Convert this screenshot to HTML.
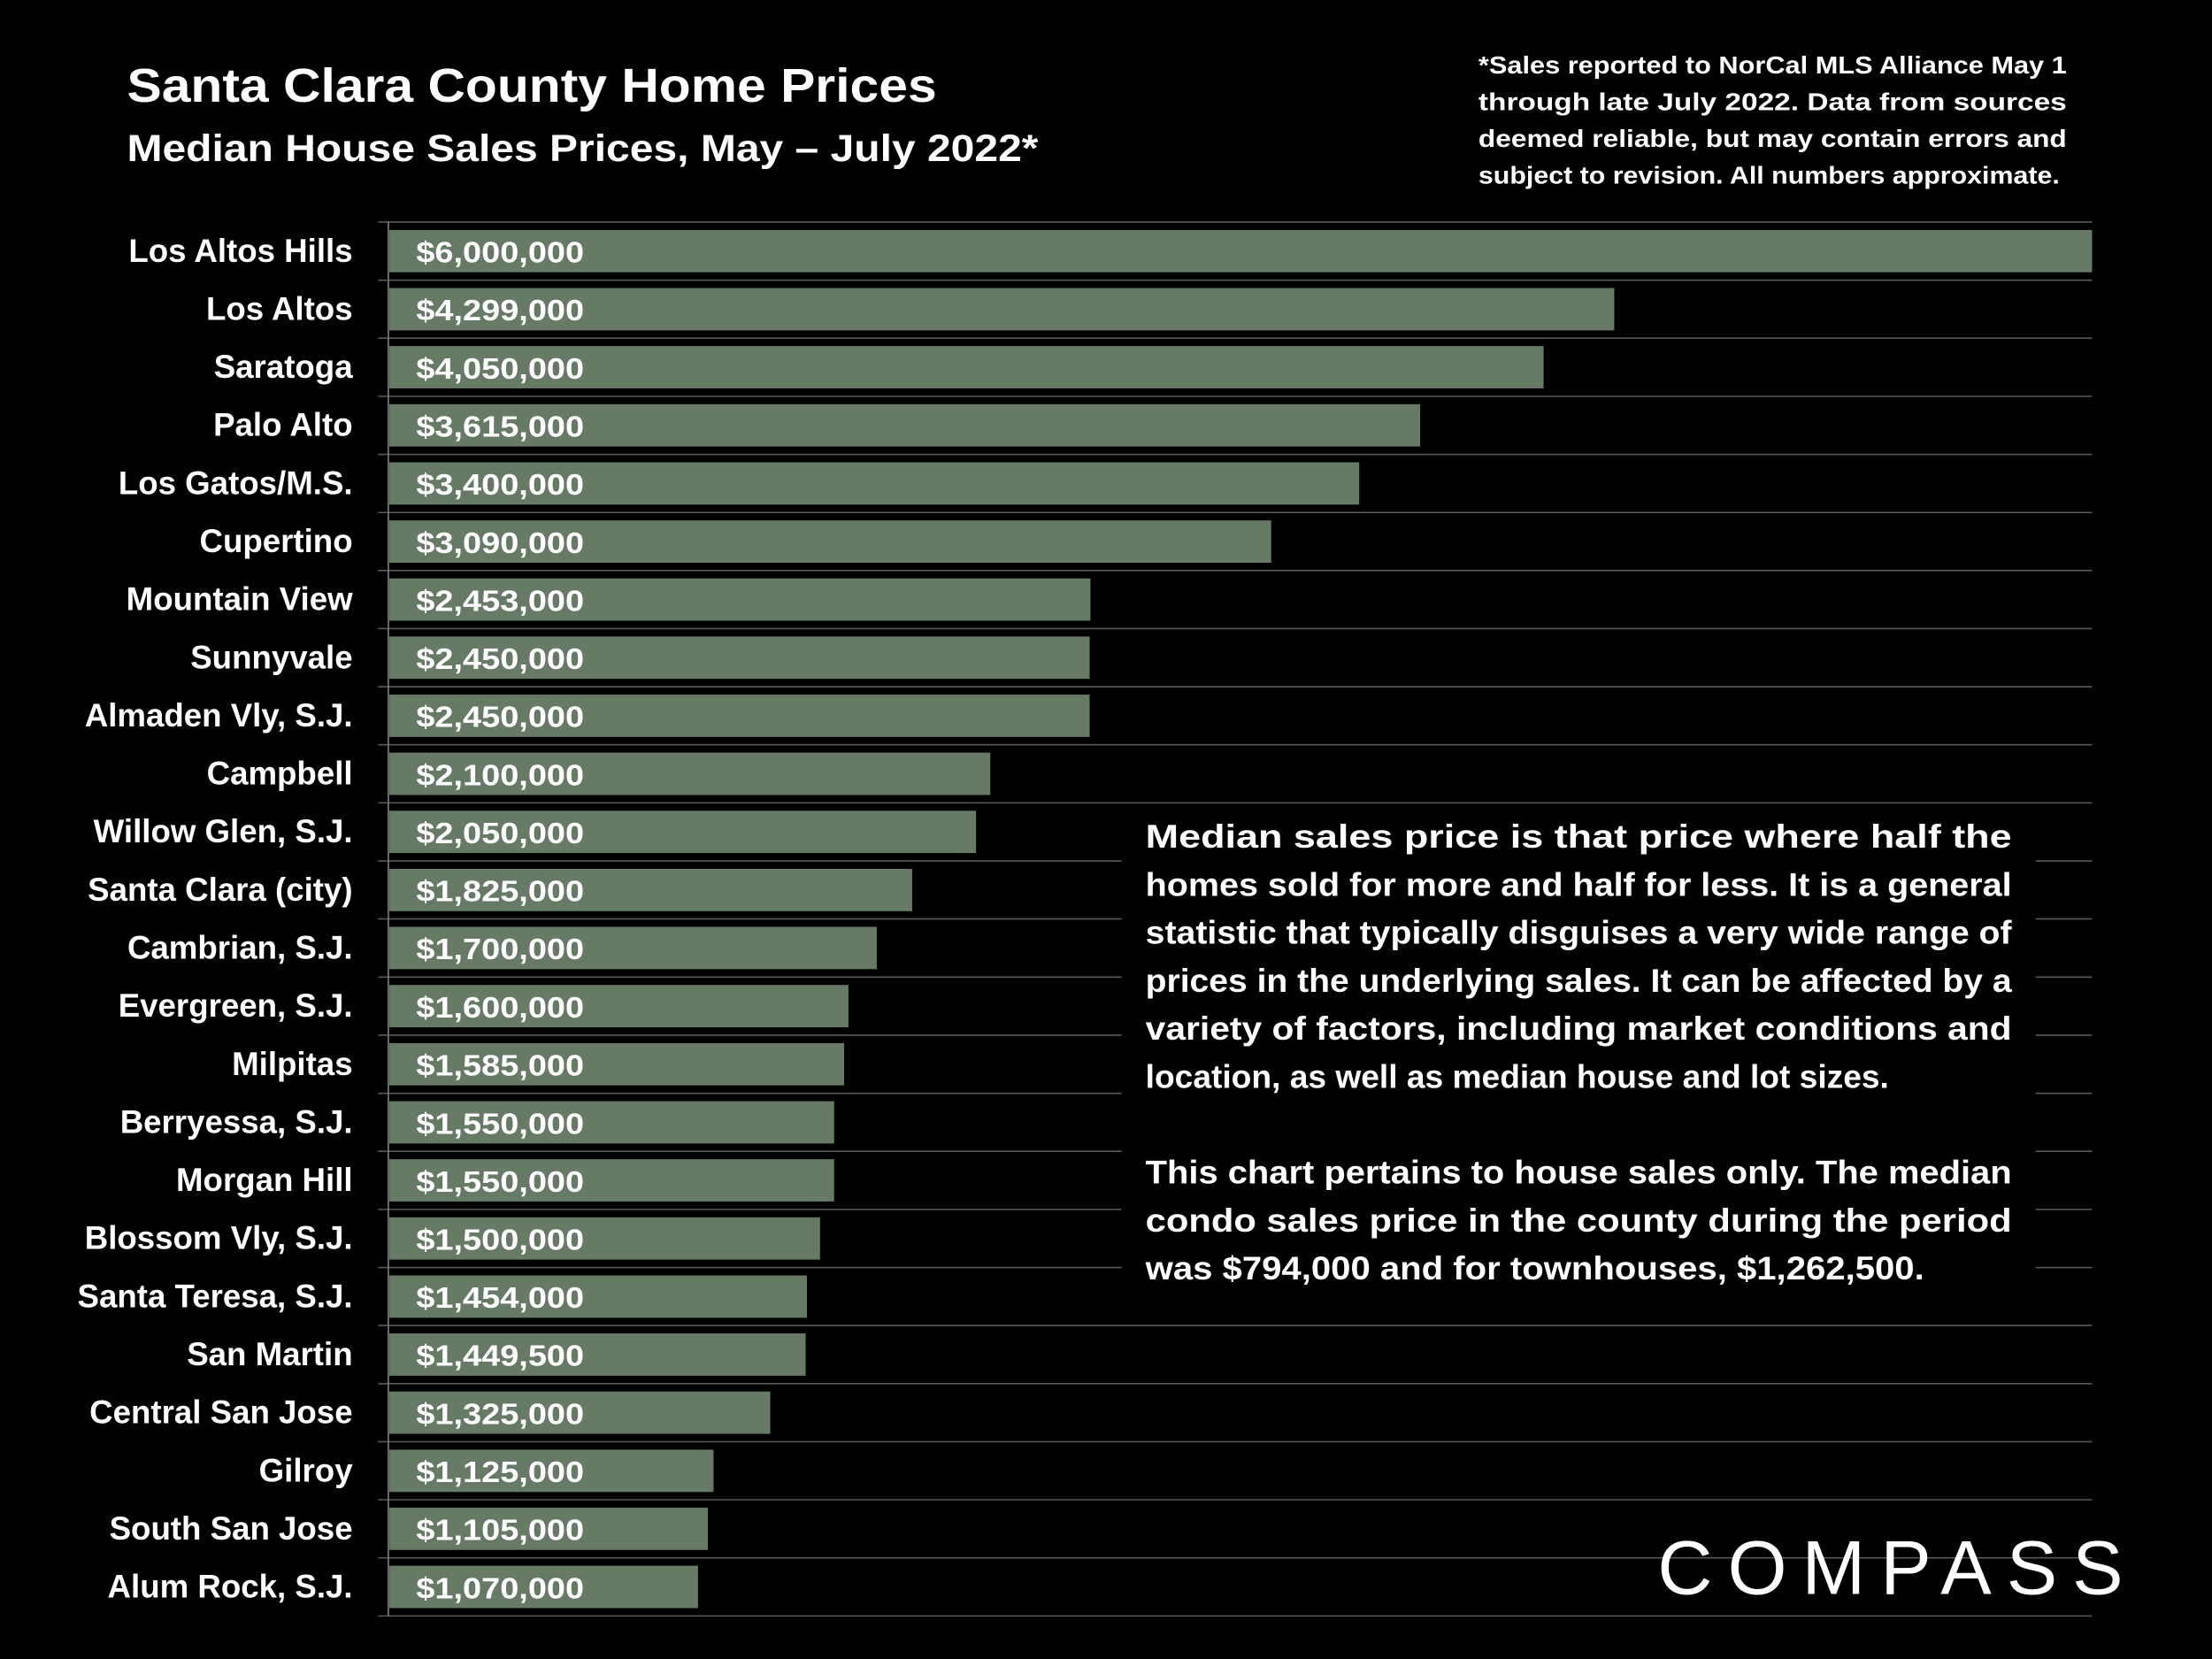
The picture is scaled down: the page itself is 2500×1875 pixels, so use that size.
<!DOCTYPE html>
<html><head><meta charset="utf-8"><style>
html,body{margin:0;padding:0;background:#000;}
svg{display:block}
text{font-family:"Liberation Sans",sans-serif;font-weight:bold;fill:#fff}
.l{font-size:23px;text-anchor:end}
.v{font-size:21px}
</style></head><body>
<svg width="2500" height="1875" viewBox="0 0 1568 1176" xmlns="http://www.w3.org/2000/svg">
<rect width="1568" height="1176" fill="#000"/>
<text x="90" y="72" font-size="34" textLength="574" lengthAdjust="spacingAndGlyphs">Santa Clara County Home Prices</text>
<text x="90" y="114" font-size="27" textLength="646" lengthAdjust="spacingAndGlyphs">Median House Sales Prices, May – July 2022*</text>
<g font-size="17.5">
<text x="1048" y="52" textLength="417" lengthAdjust="spacingAndGlyphs">*Sales reported to NorCal MLS Alliance May 1</text>
<text x="1048" y="78" textLength="417" lengthAdjust="spacingAndGlyphs">through late July 2022. Data from sources</text>
<text x="1048" y="104" textLength="417" lengthAdjust="spacingAndGlyphs">deemed reliable, but may contain errors and</text>
<text x="1048" y="130" textLength="412" lengthAdjust="spacingAndGlyphs">subject to revision. All numbers approximate.</text>
</g>
<g stroke="#595959" stroke-width="1">
<line x1="268" x2="1483" y1="157.4" y2="157.4"/>
<line x1="268" x2="1483" y1="198.6" y2="198.6"/>
<line x1="268" x2="1483" y1="239.7" y2="239.7"/>
<line x1="268" x2="1483" y1="280.9" y2="280.9"/>
<line x1="268" x2="1483" y1="322.1" y2="322.1"/>
<line x1="268" x2="1483" y1="363.3" y2="363.3"/>
<line x1="268" x2="1483" y1="404.4" y2="404.4"/>
<line x1="268" x2="1483" y1="445.6" y2="445.6"/>
<line x1="268" x2="1483" y1="486.8" y2="486.8"/>
<line x1="268" x2="1483" y1="527.9" y2="527.9"/>
<line x1="268" x2="1483" y1="569.1" y2="569.1"/>
<line x1="268" x2="1483" y1="610.3" y2="610.3"/>
<line x1="268" x2="1483" y1="651.4" y2="651.4"/>
<line x1="268" x2="1483" y1="692.6" y2="692.6"/>
<line x1="268" x2="1483" y1="733.8" y2="733.8"/>
<line x1="268" x2="1483" y1="775.0" y2="775.0"/>
<line x1="268" x2="1483" y1="816.1" y2="816.1"/>
<line x1="268" x2="1483" y1="857.3" y2="857.3"/>
<line x1="268" x2="1483" y1="898.5" y2="898.5"/>
<line x1="268" x2="1483" y1="939.6" y2="939.6"/>
<line x1="268" x2="1483" y1="980.8" y2="980.8"/>
<line x1="268" x2="1483" y1="1022.0" y2="1022.0"/>
<line x1="268" x2="1483" y1="1063.1" y2="1063.1"/>
<line x1="268" x2="1483" y1="1104.3" y2="1104.3"/>
<line x1="268" x2="1483" y1="1145.5" y2="1145.5"/>
</g>
<line x1="275.3" x2="275.3" y1="157" y2="1145.5" stroke="#7f7f7f" stroke-width="1"/>
<g fill="#667a66">
<rect x="276" y="163.0" width="1207" height="30"/>
<rect x="276" y="204.2" width="868.3" height="30"/>
<rect x="276" y="245.3" width="818.2" height="30"/>
<rect x="276" y="286.5" width="730.7" height="30"/>
<rect x="276" y="327.7" width="687.5" height="30"/>
<rect x="276" y="368.9" width="625.1" height="30"/>
<rect x="276" y="410.0" width="497.0" height="30"/>
<rect x="276" y="451.2" width="496.4" height="30"/>
<rect x="276" y="492.4" width="496.4" height="30"/>
<rect x="276" y="533.5" width="426.0" height="30"/>
<rect x="276" y="574.7" width="415.9" height="30"/>
<rect x="276" y="615.9" width="370.6" height="30"/>
<rect x="276" y="657.0" width="345.5" height="30"/>
<rect x="276" y="698.2" width="325.4" height="30"/>
<rect x="276" y="739.4" width="322.4" height="30"/>
<rect x="276" y="780.6" width="315.3" height="30"/>
<rect x="276" y="821.7" width="315.3" height="30"/>
<rect x="276" y="862.9" width="305.3" height="30"/>
<rect x="276" y="904.1" width="296.0" height="30"/>
<rect x="276" y="945.2" width="295.1" height="30"/>
<rect x="276" y="986.4" width="270.0" height="30"/>
<rect x="276" y="1027.6" width="229.8" height="30"/>
<rect x="276" y="1068.7" width="225.8" height="30"/>
<rect x="276" y="1109.9" width="218.8" height="30"/>
</g>
<g>
<text class="l" x="250" y="185.5">Los Altos Hills</text>
<text class="l" x="250" y="226.7">Los Altos</text>
<text class="l" x="250" y="267.8">Saratoga</text>
<text class="l" x="250" y="309.0">Palo Alto</text>
<text class="l" x="250" y="350.2">Los Gatos/M.S.</text>
<text class="l" x="250" y="391.4">Cupertino</text>
<text class="l" x="250" y="432.5">Mountain View</text>
<text class="l" x="250" y="473.7">Sunnyvale</text>
<text class="l" x="250" y="514.9">Almaden Vly, S.J.</text>
<text class="l" x="250" y="556.0">Campbell</text>
<text class="l" x="250" y="597.2">Willow Glen, S.J.</text>
<text class="l" x="250" y="638.4">Santa Clara (city)</text>
<text class="l" x="250" y="679.5">Cambrian, S.J.</text>
<text class="l" x="250" y="720.7">Evergreen, S.J.</text>
<text class="l" x="250" y="761.9">Milpitas</text>
<text class="l" x="250" y="803.1">Berryessa, S.J.</text>
<text class="l" x="250" y="844.2">Morgan Hill</text>
<text class="l" x="250" y="885.4">Blossom Vly, S.J.</text>
<text class="l" x="250" y="926.6">Santa Teresa, S.J.</text>
<text class="l" x="250" y="967.7">San Martin</text>
<text class="l" x="250" y="1008.9">Central San Jose</text>
<text class="l" x="250" y="1050.1">Gilroy</text>
<text class="l" x="250" y="1091.2">South San Jose</text>
<text class="l" x="250" y="1132.4">Alum Rock, S.J.</text>
</g>
<g>
<text class="v" x="295" y="186.0" textLength="119" lengthAdjust="spacingAndGlyphs">$6,000,000</text>
<text class="v" x="295" y="227.2" textLength="119" lengthAdjust="spacingAndGlyphs">$4,299,000</text>
<text class="v" x="295" y="268.3" textLength="119" lengthAdjust="spacingAndGlyphs">$4,050,000</text>
<text class="v" x="295" y="309.5" textLength="119" lengthAdjust="spacingAndGlyphs">$3,615,000</text>
<text class="v" x="295" y="350.7" textLength="119" lengthAdjust="spacingAndGlyphs">$3,400,000</text>
<text class="v" x="295" y="391.9" textLength="119" lengthAdjust="spacingAndGlyphs">$3,090,000</text>
<text class="v" x="295" y="433.0" textLength="119" lengthAdjust="spacingAndGlyphs">$2,453,000</text>
<text class="v" x="295" y="474.2" textLength="119" lengthAdjust="spacingAndGlyphs">$2,450,000</text>
<text class="v" x="295" y="515.4" textLength="119" lengthAdjust="spacingAndGlyphs">$2,450,000</text>
<text class="v" x="295" y="556.5" textLength="119" lengthAdjust="spacingAndGlyphs">$2,100,000</text>
<text class="v" x="295" y="597.7" textLength="119" lengthAdjust="spacingAndGlyphs">$2,050,000</text>
<text class="v" x="295" y="638.9" textLength="119" lengthAdjust="spacingAndGlyphs">$1,825,000</text>
<text class="v" x="295" y="680.0" textLength="119" lengthAdjust="spacingAndGlyphs">$1,700,000</text>
<text class="v" x="295" y="721.2" textLength="119" lengthAdjust="spacingAndGlyphs">$1,600,000</text>
<text class="v" x="295" y="762.4" textLength="119" lengthAdjust="spacingAndGlyphs">$1,585,000</text>
<text class="v" x="295" y="803.6" textLength="119" lengthAdjust="spacingAndGlyphs">$1,550,000</text>
<text class="v" x="295" y="844.7" textLength="119" lengthAdjust="spacingAndGlyphs">$1,550,000</text>
<text class="v" x="295" y="885.9" textLength="119" lengthAdjust="spacingAndGlyphs">$1,500,000</text>
<text class="v" x="295" y="927.1" textLength="119" lengthAdjust="spacingAndGlyphs">$1,454,000</text>
<text class="v" x="295" y="968.2" textLength="119" lengthAdjust="spacingAndGlyphs">$1,449,500</text>
<text class="v" x="295" y="1009.4" textLength="119" lengthAdjust="spacingAndGlyphs">$1,325,000</text>
<text class="v" x="295" y="1050.6" textLength="119" lengthAdjust="spacingAndGlyphs">$1,125,000</text>
<text class="v" x="295" y="1091.7" textLength="119" lengthAdjust="spacingAndGlyphs">$1,105,000</text>
<text class="v" x="295" y="1132.9" textLength="119" lengthAdjust="spacingAndGlyphs">$1,070,000</text>
</g>
<rect x="795" y="572" width="648" height="345" fill="#000"/>
<g font-size="23">
<text x="812" y="601" textLength="614" lengthAdjust="spacingAndGlyphs">Median sales price is that price where half the</text>
<text x="812" y="635" textLength="614" lengthAdjust="spacingAndGlyphs">homes sold for more and half for less. It is a general</text>
<text x="812" y="669" textLength="614" lengthAdjust="spacingAndGlyphs">statistic that typically disguises a very wide range of</text>
<text x="812" y="703" textLength="614" lengthAdjust="spacingAndGlyphs">prices in the underlying sales. It can be affected by a</text>
<text x="812" y="737" textLength="614" lengthAdjust="spacingAndGlyphs">variety of factors, including market conditions and</text>
<text x="812" y="771" textLength="527" lengthAdjust="spacingAndGlyphs">location, as well as median house and lot sizes.</text>
<text x="812" y="839" textLength="614" lengthAdjust="spacingAndGlyphs">This chart pertains to house sales only. The median</text>
<text x="812" y="873" textLength="614" lengthAdjust="spacingAndGlyphs">condo sales price in the county during the period</text>
<text x="812" y="907" textLength="552" lengthAdjust="spacingAndGlyphs">was $794,000 and for townhouses, $1,262,500.</text>
</g>
<text x="1175" y="1130" font-size="54" style="font-weight:normal" textLength="330" lengthAdjust="spacing">COMPASS</text>
</svg>
</body></html>
